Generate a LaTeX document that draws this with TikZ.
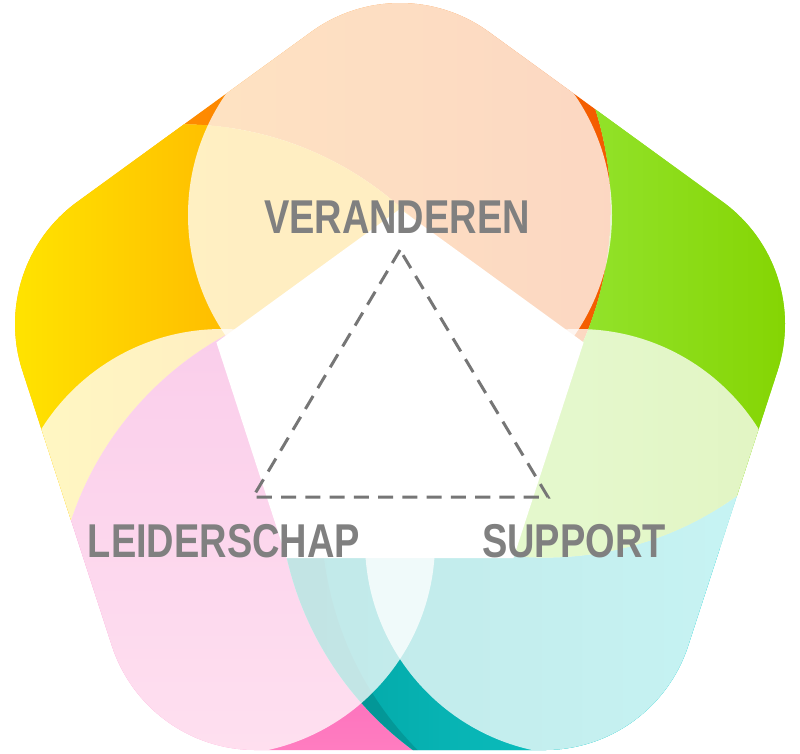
\documentclass[tikz,border=0pt]{standalone}
\usepackage{fontspec}
\newfontfamily\labelfont{Liberation Sans}[FakeStretch=0.8]
\definecolor{lblgray}{HTML}{808080}
\definecolor{tridash}{HTML}{767676}
\definecolor{topL}{HTML}{FF9000}
\definecolor{topR}{HTML}{F25500}
\definecolor{yelL}{HTML}{FFE600}
\definecolor{yelR}{HTML}{FFBC00}
\definecolor{grnL}{HTML}{92E22A}
\definecolor{grnR}{HTML}{84D400}
\definecolor{pnkT}{HTML}{EC30AC}
\definecolor{pnkB}{HTML}{FF7DC0}
\definecolor{tealL}{HTML}{00A2A2}
\definecolor{tealR}{HTML}{12CECE}
\tikzset{
  veil/.style={fill=white, fill opacity=0.76},
  lbltext/.style={text=lblgray, font=\labelfont\bfseries\fontsize{13.5}{16}\selectfont, inner sep=0pt, anchor=base},
  tri/.style={draw=tridash, line width=0.85pt, dash pattern=on 4.3pt off 2.6pt},
  holeframe/.style={insert path={(-50,-50) -- (-50,850) -- (850,850) -- (850,-50) -- cycle}}
}
\begin{document}
\begin{tikzpicture}[x=0.01cm,y=0.01cm]
\useasboundingbox (0,0) rectangle (800,753);
\begin{scope}
  % outer rounded pentagon
  \clip (777.6,382.3) arc[start angle=-18,end angle=54,radius=151]
     -- (488.76,721.16) arc[start angle=54,end angle=126,radius=151]
     -- (77.27,551.16) arc[start angle=126,end angle=198,radius=151]
     -- (111.8,107.34) arc[start angle=198,end angle=270,radius=151]
     -- (544.6,3.0) arc[start angle=270,end angle=342,radius=151] -- cycle;
  % top segment (orange): Ctop minus Cyellow
  \begin{scope}
    \clip (280.8,543.8) circle[radius=330];
    \clip[holeframe] (181.7,298.6) circle[radius=330];
    \shade[left color=topL, right color=topR] (150,200) rectangle (660,760);
  \end{scope}
  % yellow segment: Cyellow minus Cpink
  \begin{scope}
    \clip (181.7,298.6) circle[radius=330];
    \clip[holeframe] (384.3,128.5) circle[radius=330];
    \fill[yelR] (0,0) rectangle (800,753);
    \shade[left color=yelL, right color=yelR] (0,100) rectangle (230,700);
  \end{scope}
  % pink segment: Cpink minus Cteal
  \begin{scope}
    \clip (384.3,128.5) circle[radius=330];
    \clip[holeframe] (608.6,268.7) circle[radius=330];
    \shade[top color=pnkT, bottom color=pnkB] (0,0) rectangle (500,440);
  \end{scope}
  % teal segment: Cteal minus Cgreen
  \begin{scope}
    \clip (608.6,268.7) circle[radius=330];
    \clip[holeframe] (544.6,525.4) circle[radius=330];
    \fill[tealR] (0,0) rectangle (800,753);
    \shade[left color=tealL, right color=tealR] (270,0) rectangle (720,560);
    \clip[holeframe] (651.6,235.7) circle[radius=330];
    \fill[black, opacity=0.12] (0,0) rectangle (800,753);
  \end{scope}
  % green segment: Cgreen minus Ctop
  \begin{scope}
    \clip (544.6,525.4) circle[radius=330];
    \clip[holeframe] (280.8,543.8) circle[radius=330];
    \fill[grnL] (0,0) rectangle (800,753);
    \shade[left color=grnL, right color=grnR] (590,150) rectangle (800,760);
  \end{scope}
  % translucent white circles
  \fill[veil] (400,538) circle[radius=212];
  \fill[veil] (222,211) circle[radius=213];
  \fill[veil] (578,211) circle[radius=213];
\end{scope}
% white inner pentagon
\fill[white] (400,544) -- (216.4,410.6) -- (286.6,194.9) -- (513.4,194.9) -- (583.6,410.6) -- cycle;
% dashed triangle
\coordinate (tA) at (400,503);
\coordinate (tB) at (253,256);
\coordinate (tC) at (548,256);
\draw[tri] (tA) -- (tB) -- (tC) -- cycle;
% labels
\node[lbltext] (verand) at (397,520) {VERANDEREN};
\node[lbltext] (leid) at (224,196) {LEIDERSCHAP};
\node[lbltext] (supp) at (574,196) {SUPPORT};
\end{tikzpicture}
\end{document}
